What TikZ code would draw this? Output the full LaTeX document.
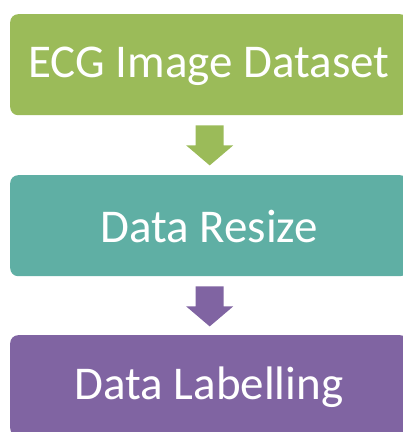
\documentclass[tikz,border=0pt]{standalone}
\usepackage{fontspec}
\setmainfont{Carlito}
\usetikzlibrary{calc}
\definecolor{cgreen}{HTML}{9BBB59}
\definecolor{cteal}{HTML}{5FAFA4}
\definecolor{cpurple}{HTML}{8064A2}
\tikzset{
  stepbox/.style={fill=#1, draw=none, rounded corners=8pt, minimum width=398pt, minimum height=101pt,
    inner sep=0pt, anchor=north west},
  steptext/.style={text=white, font=\fontsize{47}{56}\selectfont, inner sep=0pt}
}
\newcommand{\flowarrow}[2]{%
  \fill[#2] ($(#1.south)+(0.5,-10)$) -- ++(14,0) -- ++(0,-20) -- ++(9.5,0) -- ++(-23.5,-20)
    -- ++(-23.5,20) -- ++(9.5,0) -- ++(0,20) -- cycle;}
\begin{document}
\begin{tikzpicture}[x=1pt,y=1pt]
\useasboundingbox (0,0) rectangle (403,432);
\begin{scope}
\clip (0,0) rectangle (403,432);
\node[stepbox=cgreen] (a) at (10,418) {};
\node[stepbox=cteal] (b) at (10,257) {};
\node[stepbox=cpurple] (c) at (10,97) {};
\end{scope}
\node[steptext] (ta) at (209,366) {ECG Image Dataset};
\node[steptext] (tb) at (209,205) {Data Resize};
\node[steptext] (tc) at (209,45) {Data Labelling};
\flowarrow{a}{cgreen}
\flowarrow{b}{cpurple}
\end{tikzpicture}
\end{document}
